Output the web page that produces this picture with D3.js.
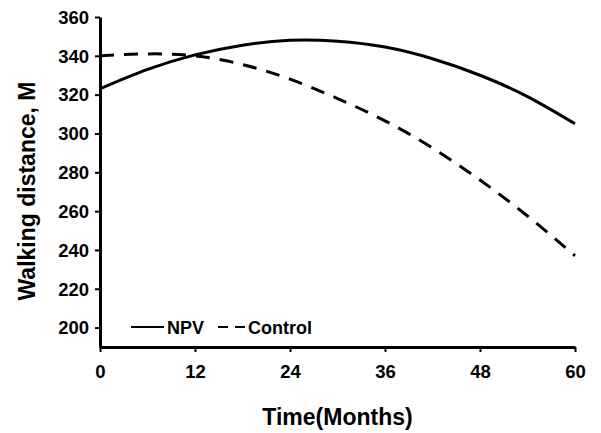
<!DOCTYPE html>
<html>
<head>
<meta charset="utf-8">
<script src="https://cdn.jsdelivr.net/npm/d3@7"></script>
<style>
  html, body { margin: 0; padding: 0; background: #fff; }
  svg { display: block; }
  text { font-family: "Liberation Sans", Arial, sans-serif; font-weight: bold; fill: #000; }
</style>
</head>
<body>
<svg id="chart" width="601" height="433"></svg>
<script>
const months = [0, 6, 12, 18, 24, 30, 36, 42, 48, 54, 60];
const npv = [323, 333, 340.5, 345.5, 348, 347.5, 344.5, 338.5, 330, 319, 305];
const control = [340, 341, 340, 335.5, 328, 318, 306.5, 292.5, 276, 257.5, 237];
const xTicks = [0, 12, 24, 36, 48, 60];
const yTicks = [200, 220, 240, 260, 280, 300, 320, 340, 360];
const seriesNames = ["NPV", "Control"];

const svg = d3.select("#chart");
const x = d3.scaleLinear().domain([0, 60]).range([100, 575]);
const y = d3.scaleLinear().domain([190, 360]).range([347, 17]);

// axes
const yAxis = svg.append("g").attr("transform", "translate(100,0)")
  .call(d3.axisLeft(y).tickValues(yTicks).tickSize(5).tickSizeOuter(0).tickPadding(6));
const xAxis = svg.append("g").attr("transform", "translate(0,347)")
  .call(d3.axisBottom(x).tickValues(xTicks).tickSize(5).tickSizeOuter(0).tickPadding(9));
[yAxis, xAxis].forEach(g => {
  g.select(".domain").attr("stroke", "#000").attr("stroke-width", 3);
  g.selectAll(".tick line").attr("stroke", "#000").attr("stroke-width", 2);
  g.selectAll(".tick text").style("font-size", "18.5px").attr("fill", "#000");
});
yAxis.selectAll(".tick text").attr("dy", "0.34em");
xAxis.selectAll(".tick text").attr("dy", "0.9em");

// lines
const line = d3.line().x((d, i) => x(months[i])).y(d => y(d)).curve(d3.curveNatural);
svg.append("path").attr("d", line(npv)).attr("fill", "none")
  .attr("stroke", "#000").attr("stroke-width", 3);
svg.append("path").attr("d", line(control)).attr("fill", "none")
  .attr("stroke", "#000").attr("stroke-width", 3).attr("stroke-dasharray", "14,10");

// legend
const lg = svg.append("g");
lg.append("line").attr("x1", 131).attr("x2", 164).attr("y1", 327).attr("y2", 327)
  .attr("stroke", "#000").attr("stroke-width", 2);
lg.append("text").attr("x", 167).attr("y", 333.5).style("font-size", "18px").text(seriesNames[0]);
lg.append("line").attr("x1", 218).attr("x2", 247).attr("y1", 327).attr("y2", 327)
  .attr("stroke", "#000").attr("stroke-width", 2).attr("stroke-dasharray", "10,7");
lg.append("text").attr("x", 248).attr("y", 333.5).style("font-size", "18px").text(seriesNames[1]);

// titles
svg.append("text").attr("x", 337.5).attr("y", 425).attr("text-anchor", "middle")
  .style("font-size", "23px").text("Time(Months)");
svg.append("text").attr("transform", "translate(35,191) rotate(-90)")
  .attr("text-anchor", "middle").style("font-size", "23px").text("Walking distance, M");
</script>
</body>
</html>
